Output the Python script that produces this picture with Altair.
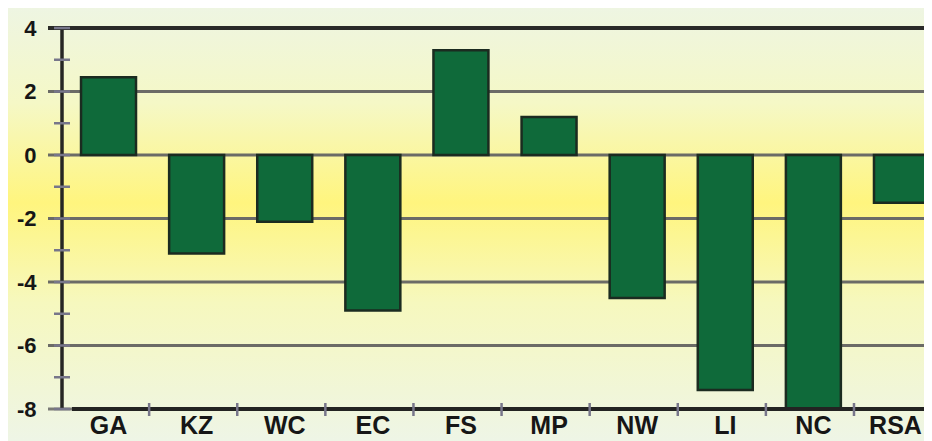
import altair as alt
import pandas as pd

regions = ["GA", "KZ", "WC", "EC", "FS", "MP", "NW", "LI", "NC", "RSA"]
values = [2.45, -3.1, -2.1, -4.9, 3.3, 1.2, -4.5, -7.4, -8.0, -1.5]
grid_major = [-6, -4, -2, 0, 2]
minor_ticks = [-8, -7, -6, -5, -4, -3, -2, -1, 0, 1, 2, 3, 4]

W, H = 862, 381
PL, PT, PB = 54, 20, 32

df = pd.DataFrame({"region": regions, "value": values})
grid_df = pd.DataFrame({"v": grid_major})
tick_df = pd.DataFrame({"v": minor_ticks})
top_df = pd.DataFrame({"v": [4]})
bot_df = pd.DataFrame({"v": [-8]})

yscale = alt.Scale(domain=[-8, 4], nice=False, zero=False)
xscale = alt.Scale(domain=regions, paddingInner=0.376, paddingOuter=0.216,
                   range=[0, 886])

yaxis = alt.Axis(title=None, values=[-8, -6, -4, -2, 0, 2, 4],
                 labelExpr="'' + datum.value",
                 labelFont="Liberation Sans", labelFontWeight="bold",
                 labelFontSize=22, labelColor="#161616", zindex=2,
                 labelPadding=26, ticks=False, domain=False, grid=False)
xaxis = alt.Axis(title=None, labelAngle=0, labelFont="Liberation Sans",
                 labelFontWeight="bold", labelFontSize=25, zindex=2,
                 labelColor="#161616", labelPadding=4, ticks=False,
                 labelOffset={"condition": {"test": "datum.value === 'RSA'",
                                            "value": -6},
                              "value": 0},
                 domain=False, grid=False)

bg = alt.Chart(pd.DataFrame({"a": [0]})).mark_rect(
    fill=alt.Gradient(
        gradient="linear", x1=0, x2=0, y1=0, y2=1,
        stops=[
            alt.GradientStop(color="#eef5e2", offset=0),
            alt.GradientStop(color="#f5f8c6", offset=0.22),
            alt.GradientStop(color="#fff57e", offset=0.45),
            alt.GradientStop(color="#f6f8be", offset=0.68),
            alt.GradientStop(color="#eef5e6", offset=1),
        ],
    )
).encode(
    x=alt.value(-PL), x2=alt.value(W + 10),
    y=alt.value(-PT), y2=alt.value(H + PB),
)

grid = alt.Chart(grid_df).mark_rule(color="#6b6b66", strokeWidth=3).encode(
    y=alt.Y("v:Q", scale=yscale, axis=yaxis),
    x=alt.value(-14), x2=alt.value(W),
)

top_line = alt.Chart(top_df).mark_rule(color="#2a2a28", strokeWidth=4).encode(
    y=alt.Y("v:Q", scale=yscale, axis=yaxis),
    x=alt.value(-14), x2=alt.value(W),
)

bars = alt.Chart(df).mark_bar(
    color="#0f6a3a", stroke="#1b2b20", strokeWidth=2.5, clip=True
).encode(
    x=alt.X("region:N", sort=regions, scale=xscale, axis=xaxis),
    y=alt.Y("value:Q", scale=yscale, axis=yaxis),
    y2=alt.datum(0),
)

bot_line = alt.Chart(bot_df).mark_rule(color="#232322", strokeWidth=4).encode(
    y=alt.Y("v:Q", scale=yscale, axis=yaxis),
    x=alt.value(10), x2=alt.value(W),
)
bot_line_left = alt.Chart(bot_df).mark_rule(color="#7a7a76", strokeWidth=3).encode(
    y=alt.Y("v:Q", scale=yscale, axis=yaxis),
    x=alt.value(-14), x2=alt.value(10),
)

yaxis_line = alt.Chart(pd.DataFrame({"a": [0]})).mark_rule(
    color="#262624", strokeWidth=3.5
).encode(x=alt.value(0), y=alt.value(0), y2=alt.value(H))

yticks = alt.Chart(tick_df).mark_rule(color="#77768a", strokeWidth=2.5).encode(
    y=alt.Y("v:Q", scale=yscale, axis=yaxis),
    x=alt.value(-8), x2=alt.value(8),
)

xticks = alt.Chart(pd.DataFrame({"region": regions[1:]})).mark_rule(
    color="#77768a", strokeWidth=2.5, xOffset=-20
).encode(
    x=alt.X("region:N", sort=regions, scale=xscale, bandPosition=0, axis=xaxis),
    y=alt.value(H - 6), y2=alt.value(H + 7),
)

chart = alt.layer(
    bg, grid, top_line, bars, bot_line_left, bot_line, yaxis_line, yticks, xticks
).properties(
    width=W, height=H,
    autosize=alt.AutoSizeParams(type="none"),
    padding={"left": PL, "top": PT, "right": 0, "bottom": PB},
    background="#ffffff",
).configure_view(stroke=None)

chart.save("out.html", embed_options={"renderer": "svg", "actions": False})
